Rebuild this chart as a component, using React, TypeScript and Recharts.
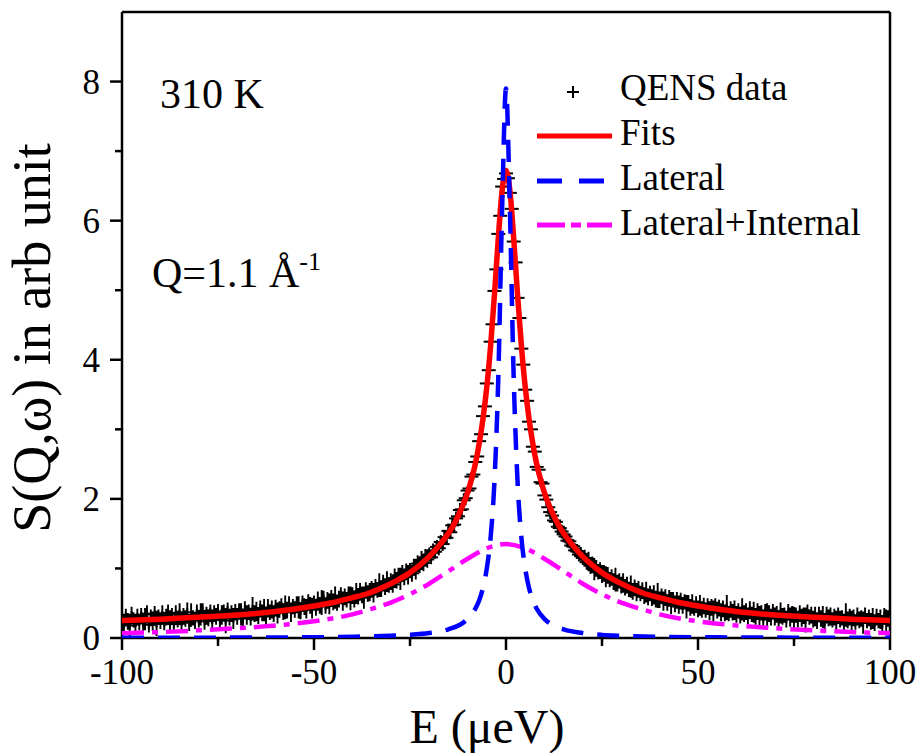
import { ComposedChart, Line, Scatter, XAxis, YAxis, ReferenceLine } from 'recharts';

// QENS data (E in µeV, S in arb unit), 0.5 µeV steps
const qensE = [
  -100, -99.5, -99, -98.5, -98, -97.5, -97, -96.5, -96, -95.5,
  -95, -94.5, -94, -93.5, -93, -92.5, -92, -91.5, -91, -90.5,
  -90, -89.5, -89, -88.5, -88, -87.5, -87, -86.5, -86, -85.5,
  -85, -84.5, -84, -83.5, -83, -82.5, -82, -81.5, -81, -80.5,
  -80, -79.5, -79, -78.5, -78, -77.5, -77, -76.5, -76, -75.5,
  -75, -74.5, -74, -73.5, -73, -72.5, -72, -71.5, -71, -70.5,
  -70, -69.5, -69, -68.5, -68, -67.5, -67, -66.5, -66, -65.5,
  -65, -64.5, -64, -63.5, -63, -62.5, -62, -61.5, -61, -60.5,
  -60, -59.5, -59, -58.5, -58, -57.5, -57, -56.5, -56, -55.5,
  -55, -54.5, -54, -53.5, -53, -52.5, -52, -51.5, -51, -50.5,
  -50, -49.5, -49, -48.5, -48, -47.5, -47, -46.5, -46, -45.5,
  -45, -44.5, -44, -43.5, -43, -42.5, -42, -41.5, -41, -40.5,
  -40, -39.5, -39, -38.5, -38, -37.5, -37, -36.5, -36, -35.5,
  -35, -34.5, -34, -33.5, -33, -32.5, -32, -31.5, -31, -30.5,
  -30, -29.5, -29, -28.5, -28, -27.5, -27, -26.5, -26, -25.5,
  -25, -24.5, -24, -23.5, -23, -22.5, -22, -21.5, -21, -20.5,
  -20, -19.5, -19, -18.5, -18, -17.5, -17, -16.5, -16, -15.5,
  -15, -14.5, -14, -13.5, -13, -12.5, -12, -11.5, -11, -10.5,
  -10, -9.5, -9, -8.5, -8, -7.5, -7, -6.5, -6, -5.5,
  -5, -4.5, -4, -3.5, -3, -2.5, -2, -1.5, -1, -0.5,
  0,
  0.5, 1, 1.5, 2, 2.5, 3, 3.5, 4, 4.5, 5,
  5.5, 6, 6.5, 7, 7.5, 8, 8.5, 9, 9.5, 10,
  10.5, 11, 11.5, 12, 12.5, 13, 13.5, 14, 14.5, 15,
  15.5, 16, 16.5, 17, 17.5, 18, 18.5, 19, 19.5, 20,
  20.5, 21, 21.5, 22, 22.5, 23, 23.5, 24, 24.5, 25,
  25.5, 26, 26.5, 27, 27.5, 28, 28.5, 29, 29.5, 30,
  30.5, 31, 31.5, 32, 32.5, 33, 33.5, 34, 34.5, 35,
  35.5, 36, 36.5, 37, 37.5, 38, 38.5, 39, 39.5, 40,
  40.5, 41, 41.5, 42, 42.5, 43, 43.5, 44, 44.5, 45,
  45.5, 46, 46.5, 47, 47.5, 48, 48.5, 49, 49.5, 50,
  50.5, 51, 51.5, 52, 52.5, 53, 53.5, 54, 54.5, 55,
  55.5, 56, 56.5, 57, 57.5, 58, 58.5, 59, 59.5, 60,
  60.5, 61, 61.5, 62, 62.5, 63, 63.5, 64, 64.5, 65,
  65.5, 66, 66.5, 67, 67.5, 68, 68.5, 69, 69.5, 70,
  70.5, 71, 71.5, 72, 72.5, 73, 73.5, 74, 74.5, 75,
  75.5, 76, 76.5, 77, 77.5, 78, 78.5, 79, 79.5, 80,
  80.5, 81, 81.5, 82, 82.5, 83, 83.5, 84, 84.5, 85,
  85.5, 86, 86.5, 87, 87.5, 88, 88.5, 89, 89.5, 90,
  90.5, 91, 91.5, 92, 92.5, 93, 93.5, 94, 94.5, 95,
  95.5, 96, 96.5, 97, 97.5, 98, 98.5, 99, 99.5, 100,
];
const qensS = [
  0.29, 0.20, 0.31, 0.24, 0.18, 0.33, 0.26, 0.21, 0.30, 0.23,
  0.32, 0.22, 0.27, 0.35, 0.19, 0.29, 0.24, 0.34, 0.21, 0.30,
  0.25, 0.33, 0.22, 0.30, 0.36, 0.24, 0.31, 0.20, 0.34, 0.27,
  0.35, 0.23, 0.31, 0.28, 0.37, 0.22, 0.33, 0.29, 0.25, 0.36,
  0.27, 0.34, 0.39, 0.24, 0.32, 0.29, 0.37, 0.26, 0.35, 0.31,
  0.38, 0.27, 0.33, 0.36, 0.25, 0.40, 0.30, 0.35, 0.28, 0.37,
  0.31, 0.39, 0.34, 0.28, 0.41, 0.33, 0.37, 0.30, 0.42, 0.35,
  0.38, 0.32, 0.43, 0.36, 0.40, 0.31, 0.44, 0.37, 0.41, 0.35,
  0.43, 0.36, 0.41, 0.46, 0.38, 0.44, 0.40, 0.48, 0.37, 0.45,
  0.41, 0.48, 0.44, 0.39, 0.50, 0.45, 0.42, 0.51, 0.47, 0.43,
  0.50, 0.44, 0.53, 0.47, 0.51, 0.56, 0.46, 0.54, 0.49, 0.57,
  0.52, 0.58, 0.50, 0.56, 0.61, 0.53, 0.59, 0.55, 0.62, 0.57,
  0.61, 0.55, 0.64, 0.60, 0.67, 0.62, 0.58, 0.69, 0.64, 0.66,
  0.70, 0.65, 0.73, 0.69, 0.76, 0.71, 0.79, 0.74, 0.81, 0.76,
  0.81, 0.77, 0.86, 0.83, 0.90, 0.85, 0.93, 0.88, 0.95, 0.91,
  0.97, 0.93, 1.02, 0.99, 1.07, 1.04, 1.12, 1.08, 1.16, 1.13,
  1.20, 1.16, 1.26, 1.24, 1.31, 1.29, 1.38, 1.35, 1.45, 1.44,
  1.54, 1.52, 1.62, 1.63, 1.72, 1.75, 1.84, 1.85, 1.98, 2.01,
  2.12, 2.15, 2.32, 2.35, 2.53, 2.61, 2.83, 2.93, 3.19, 3.33,
  3.66, 3.85, 4.26, 4.51, 4.99, 5.30, 5.81, 6.07, 6.49, 6.60,
  6.68,
  6.61, 6.40, 6.17, 5.70, 5.40, 4.89, 4.60, 4.16, 3.93, 3.57,
  3.41, 3.11, 3.00, 2.75, 2.68, 2.46, 2.42, 2.24, 2.22, 2.05,
  1.99, 1.88, 1.81, 1.76, 1.69, 1.67, 1.60, 1.58, 1.53, 1.49,
  1.46, 1.40, 1.39, 1.33, 1.32, 1.26, 1.25, 1.20, 1.21, 1.15,
  1.15, 1.09, 1.10, 1.04, 1.05, 0.99, 1.00, 0.95, 0.97, 0.92,
  0.93, 0.88, 0.90, 0.84, 0.87, 0.81, 0.84, 0.79, 0.82, 0.76,
  0.79, 0.73, 0.76, 0.70, 0.74, 0.67, 0.72, 0.66, 0.70, 0.64,
  0.68, 0.61, 0.66, 0.59, 0.64, 0.58, 0.62, 0.56, 0.61, 0.55,
  0.60, 0.53, 0.58, 0.51, 0.57, 0.50, 0.55, 0.49, 0.54, 0.48,
  0.53, 0.47, 0.52, 0.45, 0.50, 0.44, 0.49, 0.43, 0.48, 0.42,
  0.47, 0.41, 0.46, 0.40, 0.45, 0.39, 0.44, 0.38, 0.46, 0.40,
  0.43, 0.37, 0.42, 0.36, 0.44, 0.35, 0.41, 0.37, 0.40, 0.34,
  0.39, 0.33, 0.41, 0.35, 0.38, 0.32, 0.40, 0.34, 0.37, 0.31,
  0.38, 0.32, 0.36, 0.29, 0.37, 0.33, 0.35, 0.30, 0.38, 0.31,
  0.34, 0.28, 0.36, 0.31, 0.33, 0.27, 0.37, 0.30, 0.34, 0.29,
  0.33, 0.27, 0.35, 0.29, 0.32, 0.26, 0.36, 0.30, 0.33, 0.27,
  0.31, 0.25, 0.34, 0.28, 0.30, 0.24, 0.33, 0.29, 0.31, 0.26,
  0.30, 0.24, 0.32, 0.27, 0.29, 0.23, 0.33, 0.26, 0.30, 0.25,
  0.29, 0.23, 0.31, 0.26, 0.28, 0.22, 0.32, 0.25, 0.29, 0.24,
  0.28, 0.22, 0.30, 0.25, 0.27, 0.21, 0.31, 0.24, 0.28, 0.26,
];
const qensErr = [
  0.12, 0.15, 0.11, 0.12, 0.17, 0.12, 0.11, 0.14, 0.12, 0.12,
  0.11, 0.12, 0.16, 0.12, 0.11, 0.12, 0.14, 0.12, 0.18, 0.11,
  0.12, 0.14, 0.11, 0.12, 0.12, 0.16, 0.12, 0.11, 0.13, 0.12,
  0.15, 0.11, 0.12, 0.12, 0.14, 0.12, 0.17, 0.11, 0.12, 0.12,
  0.12, 0.16, 0.11, 0.12, 0.13, 0.12, 0.11, 0.15, 0.12, 0.12,
  0.11, 0.12, 0.14, 0.12, 0.18, 0.11, 0.12, 0.12, 0.15, 0.12,
  0.12, 0.11, 0.16, 0.12, 0.12, 0.14, 0.11, 0.12, 0.17, 0.12,
  0.14, 0.12, 0.11, 0.12, 0.16, 0.12, 0.12, 0.11, 0.13, 0.12,
  0.12, 0.15, 0.12, 0.11, 0.12, 0.17, 0.12, 0.12, 0.14, 0.11,
  0.12, 0.12, 0.16, 0.12, 0.11, 0.12, 0.14, 0.12, 0.12, 0.15,
  0.11, 0.12, 0.14, 0.12, 0.18, 0.12, 0.11, 0.12, 0.15, 0.12,
  0.12, 0.16, 0.11, 0.12, 0.12, 0.14, 0.12, 0.11, 0.12, 0.17,
  0.12, 0.11, 0.15, 0.12, 0.12, 0.12, 0.16, 0.11, 0.12, 0.13,
  0.12, 0.14, 0.12, 0.11, 0.17, 0.12, 0.12, 0.12, 0.15, 0.11,
  0.12, 0.12, 0.14, 0.12, 0.11, 0.16, 0.12, 0.12, 0.12, 0.14,
  0.11, 0.12, 0.12, 0.15, 0.12, 0.11, 0.13, 0.12, 0.12, 0.12,
  0.1, 0.1, 0.1, 0.1, 0.1, 0.1, 0.1, 0.1, 0.1, 0.1,
  0.1, 0.1, 0.1, 0.1, 0.1, 0.1, 0.1, 0.1, 0.1, 0.1,
  0.07, 0.07, 0.07, 0.07, 0.07, 0.07, 0.07, 0.07, 0.07, 0.07,
  0.07, 0.07, 0.07, 0.07, 0.07, 0.07, 0.07, 0.07, 0.07, 0.07,
  0.07,
  0.07, 0.07, 0.07, 0.07, 0.07, 0.07, 0.07, 0.07, 0.07, 0.07,
  0.07, 0.07, 0.07, 0.07, 0.07, 0.07, 0.07, 0.07, 0.07, 0.07,
  0.1, 0.1, 0.1, 0.1, 0.1, 0.1, 0.1, 0.1, 0.1, 0.1,
  0.1, 0.1, 0.1, 0.1, 0.1, 0.1, 0.1, 0.1, 0.1, 0.1,
  0.12, 0.11, 0.14, 0.12, 0.12, 0.16, 0.12, 0.11, 0.12, 0.13,
  0.12, 0.15, 0.12, 0.11, 0.12, 0.12, 0.17, 0.12, 0.11, 0.12,
  0.14, 0.12, 0.12, 0.11, 0.16, 0.12, 0.12, 0.13, 0.12, 0.11,
  0.12, 0.12, 0.15, 0.12, 0.11, 0.12, 0.14, 0.12, 0.18, 0.12,
  0.11, 0.14, 0.12, 0.12, 0.12, 0.16, 0.11, 0.12, 0.12, 0.13,
  0.12, 0.12, 0.11, 0.17, 0.12, 0.12, 0.14, 0.11, 0.12, 0.12,
  0.15, 0.12, 0.12, 0.11, 0.12, 0.14, 0.12, 0.16, 0.11, 0.12,
  0.12, 0.13, 0.12, 0.12, 0.18, 0.11, 0.12, 0.12, 0.14, 0.12,
  0.11, 0.12, 0.16, 0.12, 0.12, 0.12, 0.13, 0.11, 0.15, 0.12,
  0.12, 0.14, 0.11, 0.12, 0.12, 0.17, 0.12, 0.12, 0.11, 0.13,
  0.12, 0.12, 0.15, 0.12, 0.11, 0.12, 0.12, 0.14, 0.12, 0.16,
  0.11, 0.12, 0.12, 0.13, 0.12, 0.18, 0.12, 0.11, 0.12, 0.12,
  0.14, 0.12, 0.11, 0.12, 0.16, 0.12, 0.12, 0.12, 0.13, 0.11,
  0.12, 0.15, 0.12, 0.12, 0.11, 0.12, 0.17, 0.12, 0.12, 0.14,
  0.12, 0.11, 0.13, 0.12, 0.12, 0.16, 0.12, 0.11, 0.12, 0.12,
  0.15, 0.12, 0.12, 0.11, 0.14, 0.12, 0.12, 0.17, 0.12, 0.12,
];

// Fits (red)
const fitE = [-100, -90, -80, -70, -60, -50, -45, -40, -36, -32, -28, -25, -22, -20, -18, -16, -14, -12, -10, -9, -8, -7, -6, -5, -4, -3, -2, -1, 0,
  1, 2, 3, 4, 5, 6, 7, 8, 9, 10, 12, 14, 16, 18, 20, 22, 25, 28, 32, 36, 40, 45, 50, 60, 70, 80, 90, 100];
const fitS = [0.25, 0.27, 0.30, 0.33, 0.38, 0.46, 0.51, 0.58, 0.64, 0.73, 0.84, 0.94, 1.07, 1.17, 1.29, 1.43, 1.59, 1.81, 2.09, 2.28, 2.50, 2.79, 3.15, 3.61, 4.21, 4.94, 5.75, 6.44, 6.72,
  6.44, 5.75, 4.94, 4.21, 3.61, 3.15, 2.79, 2.50, 2.28, 2.09, 1.81, 1.59, 1.43, 1.29, 1.17, 1.07, 0.94, 0.84, 0.73, 0.64, 0.58, 0.51, 0.46, 0.38, 0.33, 0.30, 0.27, 0.25];

// Lateral (blue dashed)
const lateralE = [-100, -75, -60, -50, -40, -30, -25, -20, -15, -12, -10, -8, -7, -6, -5, -4, -3, -2, -1, 0,
  1, 2, 3, 4, 5, 6, 7, 8, 10, 12, 15, 20, 25, 30, 40, 50, 60, 75, 100];
const lateralS = [0.003, 0.005, 0.008, 0.011, 0.018, 0.032, 0.045, 0.071, 0.125, 0.19, 0.275, 0.42, 0.54, 0.72, 1.0, 1.45, 2.26, 3.75, 6.19, 7.9,
  6.19, 3.75, 2.26, 1.45, 1.0, 0.72, 0.54, 0.42, 0.275, 0.19, 0.125, 0.071, 0.045, 0.032, 0.018, 0.011, 0.008, 0.005, 0.003];

// Lateral+Internal (magenta dash-dot)
const internalE = [-100, -90, -80, -70, -60, -50, -40, -35, -30, -25, -20, -15, -10, -5, 0, 5, 10, 15, 20, 25, 30, 35, 40, 50, 60, 70, 80, 90, 100];
const internalS = [0.07, 0.085, 0.11, 0.14, 0.18, 0.24, 0.34, 0.42, 0.51, 0.63, 0.78, 0.96, 1.14, 1.29, 1.35, 1.29, 1.14, 0.96, 0.78, 0.63, 0.51, 0.42, 0.34, 0.24, 0.18, 0.14, 0.11, 0.085, 0.07];

const xTicks = [-100, -75, -50, -25, 0, 25, 50, 75, 100];
const xMajor = [-100, -50, 0, 50, 100];
const yTicks = [0, 1, 2, 3, 4, 5, 6, 7, 8];
const yMajor = [0, 2, 4, 6, 8];

const qensData = qensE.map((E, i) => ({ E, S: qensS[i] }));
// vertical error bars as broken line segments: low, high, gap
const errData = qensE.flatMap((E, i) => [
  { E, v: qensS[i] - qensErr[i] },
  { E, v: qensS[i] + qensErr[i] },
  { E, v: null },
]);
const fitData = fitE.map((E, i) => ({ E, S: fitS[i] }));
const lateralData = lateralE.map((E, i) => ({ E, S: lateralS[i] }));
const internalData = internalE.map((E, i) => ({ E, S: internalS[i] }));

const FONT = "'Liberation Serif', 'Times New Roman', serif";

const XTick = (props: any) => {
  const { x, y, payload } = props;
  const major = xMajor.includes(payload.value);
  return (
    <g>
      <line x1={x} x2={x} y1={y} y2={y + (major ? 12 : 8)} stroke="#000" strokeWidth={2.5} />
      {major && (
        <text x={x} y={y + 46} textAnchor="middle" fontSize={35} fontFamily={FONT} fill="#000">
          {payload.value}
        </text>
      )}
    </g>
  );
};

const YTick = (props: any) => {
  const { x, y, payload } = props;
  const major = yMajor.includes(payload.value);
  return (
    <g>
      <line x1={x} x2={x - (major ? 12 : 7)} y1={y} y2={y} stroke="#000" strokeWidth={2.5} />
      {major && (
        <text x={x - 22} y={y + 12} textAnchor="end" fontSize={35} fontFamily={FONT} fill="#000">
          {payload.value}
        </text>
      )}
    </g>
  );
};

const PlusMark = (props: any) => {
  const { cx, cy } = props;
  if (cx == null || cy == null) return null;
  return (
    <g>
      <line x1={cx - 7} x2={cx + 7} y1={cy} y2={cy} stroke="#000" strokeWidth={2} />
      <line x1={cx} x2={cx} y1={cy - 4} y2={cy + 4} stroke="#000" strokeWidth={2} />
    </g>
  );
};

export default function App() {
  return (
    <div style={{ position: 'absolute', left: 0, top: 0, width: 924, height: 753, background: '#fff' }}>
      <ComposedChart width={924} height={753} margin={{ top: 12, right: 34, bottom: 0, left: 0 }}>
        <XAxis
          type="number"
          dataKey="E"
          domain={[-100, 100]}
          ticks={xTicks}
          interval={0}
          height={115}
          tickSize={0}
          tickMargin={0}
          tick={<XTick />}
          axisLine={{ stroke: '#000', strokeWidth: 2.5 }}
          allowDataOverflow
        />
        <YAxis
          type="number"
          domain={[0, 9]}
          ticks={yTicks}
          interval={0}
          width={122}
          tickSize={0}
          tickMargin={0}
          tick={<YTick />}
          axisLine={{ stroke: '#000', strokeWidth: 2.5 }}
          allowDataOverflow
        />
        <ReferenceLine y={9} stroke="#000" strokeWidth={2.5} />
        <ReferenceLine x={100} stroke="#000" strokeWidth={2.5} />
        <Line data={errData} dataKey="v" type="linear" connectNulls={false} stroke="#000" strokeWidth={1.9} dot={false} activeDot={false} isAnimationActive={false} zIndex={400} />
        <Scatter data={qensData} dataKey="S" shape={<PlusMark />} isAnimationActive={false} zIndex={450} />
        <Line data={fitData} dataKey="S" type="monotone" stroke="#ff0000" strokeWidth={5.5} dot={false} isAnimationActive={false} zIndex={700} />
        <Line data={internalData} dataKey="S" type="monotone" stroke="#ff00ff" strokeWidth={4.5} strokeDasharray="22 8 6 8" dot={false} isAnimationActive={false} zIndex={710} />
        <Line data={lateralData} dataKey="S" type="monotone" stroke="#0000ff" strokeWidth={4.5} strokeDasharray="22 14" dot={false} isAnimationActive={false} zIndex={720} />
      </ComposedChart>

      <svg width={924} height={753} style={{ position: 'absolute', left: 0, top: 0, pointerEvents: 'none' }} fontFamily={FONT}>
        <text transform="translate(50,338) rotate(-90)" textAnchor="middle" fontSize={54} fill="#000">
          S(Q,ω) in arb unit
        </text>
        <text x={487} y={743} textAnchor="middle" fontSize={48} fill="#000">E (μeV)</text>

        <text x={160} y={108} fontSize={42} fill="#000">310 K</text>
        <text x={152} y={287} fontSize={42} fill="#000">
          Q=1.1 Å<tspan dy={-17} fontSize={26}>-1</tspan>
        </text>

        <line x1={567} x2={579} y1={92} y2={92} stroke="#000" strokeWidth={2} />
        <line x1={573} x2={573} y1={86} y2={98} stroke="#000" strokeWidth={2} />
        <text x={620} y={100} fontSize={37} fill="#000">QENS data</text>

        <line x1={537} x2={612} y1={136} y2={136} stroke="#ff0000" strokeWidth={5} />
        <text x={620} y={145} fontSize={37} fill="#000">Fits</text>

        <line x1={537} x2={612} y1={181} y2={181} stroke="#0000ff" strokeWidth={5} strokeDasharray="25 17" />
        <text x={620} y={190} fontSize={37} fill="#000">Lateral</text>

        <line x1={537} x2={612} y1={225} y2={225} stroke="#ff00ff" strokeWidth={5} strokeDasharray="28 6 10 6" />
        <text x={620} y={235} fontSize={37} fill="#000">Lateral+Internal</text>
      </svg>
    </div>
  );
}
